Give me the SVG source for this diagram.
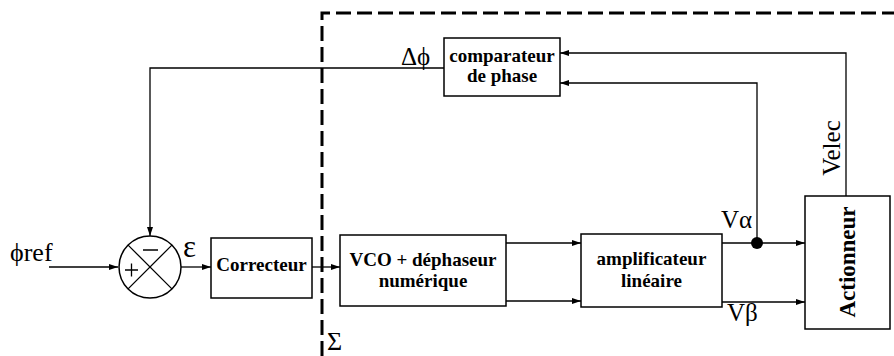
<svg xmlns="http://www.w3.org/2000/svg" width="894" height="356" viewBox="0 0 894 356">
<style>
.box{fill:#fff;stroke:#000;stroke-width:1.5}
.ln{fill:none;stroke:#000;stroke-width:1.3}
.b{font-family:"Liberation Serif","Times New Roman",serif;font-weight:bold;font-size:19px;text-anchor:middle}
.r{font-family:"Liberation Serif","Times New Roman",serif;font-size:25px}
.dash{fill:none;stroke:#000;stroke-width:3;stroke-dasharray:15 6}
</style>
<defs>
<marker id="ah" markerWidth="10" markerHeight="8" refX="9" refY="4" orient="auto" markerUnits="userSpaceOnUse">
<path d="M0,1 L9,4 L0,7 Z" fill="#000"/>
</marker>
</defs>
<rect width="894" height="356" fill="#fff"/>
<g id="boundary">
<path class="dash" d="M322,356 L322,13 L894,13"/>
<text class="r" x="327" y="350" style="font-size:26px">Σ</text>
</g>
<g id="connectors">
<path class="ln" d="M49,267 L118,267" marker-end="url(#ah)"/>
<path class="ln" d="M444,68 L150,68 L150,236" marker-end="url(#ah)"/>
<path class="ln" d="M181,267 L211,267" marker-end="url(#ah)"/>
<path class="ln" d="M312,267 L340,267" marker-end="url(#ah)"/>
<path class="ln" d="M506,243 L581,243" marker-end="url(#ah)"/>
<path class="ln" d="M506,301 L581,301" marker-end="url(#ah)"/>
<path class="ln" d="M722,243 L805,243" marker-end="url(#ah)"/>
<path class="ln" d="M722,302 L805,302" marker-end="url(#ah)"/>
<path class="ln" d="M757,243 L757,83 L560,83" marker-end="url(#ah)"/>
<path class="ln" d="M846,196 L846,53 L560,53" marker-end="url(#ah)"/>
<circle cx="757" cy="243" r="6" fill="#000"/>
<text class="r" x="10" y="261" style="font-size:26px">ϕref</text>
<text class="r" x="183" y="257" style="font-size:31px">ε</text>
<text class="r" x="401" y="65">Δϕ</text>
<text class="r" x="721" y="228">Vα</text>
<text class="r" x="727" y="321">Vβ</text>
<text class="r" x="0" y="0" text-anchor="middle" transform="translate(840,148) rotate(-90)">Velec</text>
</g>
<g id="sum">
<circle cx="150" cy="267" r="31" fill="#fff" stroke="#000" stroke-width="1.5"/>
<path class="ln" d="M128.1,245.1 L171.9,288.9 M171.9,245.1 L128.1,288.9"/>
<path class="ln" d="M143,250 L158,250 M125,270 L138,270 M131.5,263.5 L131.5,276.5" stroke-width="1.5"/>
</g>
<g id="correcteur">
<rect class="box" x="211" y="238" width="101" height="60"/>
<text class="b" x="261.5" y="271">Correcteur</text>
</g>
<g id="vco">
<rect class="box" x="340" y="235" width="166" height="71"/>
<text class="b" x="423" y="266">VCO + déphaseur</text>
<text class="b" x="423" y="286.5">numérique</text>
</g>
<g id="amplificateur">
<rect class="box" x="581" y="234" width="141" height="73"/>
<text class="b" x="651.5" y="265">amplificateur</text>
<text class="b" x="651.5" y="286.5">linéaire</text>
</g>
<g id="comparateur">
<rect class="box" x="444" y="38" width="116" height="58"/>
<text class="b" x="502" y="62">comparateur</text>
<text class="b" x="502" y="82">de phase</text>
</g>
<g id="actionneur">
<rect class="box" x="805" y="196" width="85" height="133"/>
<text class="b" style="font-size:23px" x="0" y="0" transform="translate(855,262) rotate(-90)">Actionneur</text>
</g>
</svg>
